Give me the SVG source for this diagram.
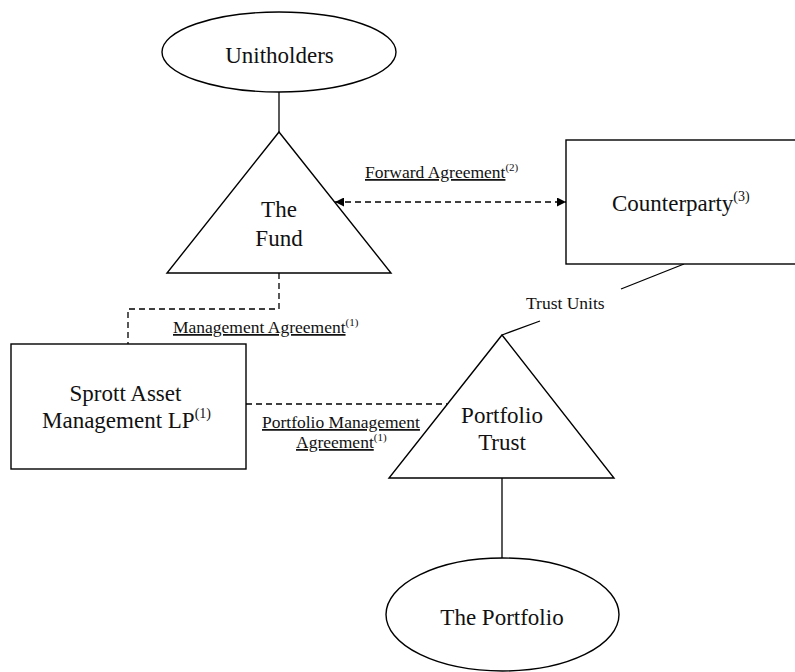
<svg xmlns="http://www.w3.org/2000/svg" width="795" height="672" viewBox="0 0 795 672">
<style>
.shape{fill:#fff;stroke:#000;stroke-width:1.4}
.line{fill:none;stroke:#000;stroke-width:1.3}
.dash{fill:none;stroke:#000;stroke-width:1.3;stroke-dasharray:6 4}
.big{font-family:"Liberation Serif","Times New Roman",serif;font-size:23px;fill:#111}
.lbl{font-family:"Liberation Serif","Times New Roman",serif;font-size:17.5px;fill:#111}
.u{text-decoration:underline}
</style>
<defs>
<marker id="arr" viewBox="0 0 10 10" refX="10" refY="5" markerWidth="10" markerHeight="9" markerUnits="userSpaceOnUse" orient="auto-start-reverse">
<path d="M0,0 L10,5 L0,10 Z" fill="#000"/>
</marker>
</defs>
<rect width="795" height="672" fill="#fff"/>
<g id="connectors">
<line class="line" x1="279" y1="92" x2="279" y2="132"/>
<line class="dash" x1="335" y1="202" x2="566" y2="202" marker-start="url(#arr)" marker-end="url(#arr)"/>
<path class="dash" d="M279,273 V309 H128 V344"/>
<path class="dash" d="M246,404 H447"/>
<line class="line" x1="684" y1="264" x2="621" y2="289"/>
<line class="line" x1="540" y1="321" x2="502" y2="335"/>
<line class="line" x1="502" y1="478" x2="502" y2="558"/>
<text class="lbl" x="365" y="178"><tspan class="u">Forward Agreement</tspan><tspan font-size="11" dy="-7">(2)</tspan></text>
<text class="lbl" x="173" y="333"><tspan class="u">Management Agreement</tspan><tspan font-size="11" dy="-7">(1)</tspan></text>
<text class="lbl" x="262" y="428"><tspan class="u">Portfolio Management</tspan></text>
<text class="lbl" x="296" y="448"><tspan class="u">Agreement</tspan><tspan font-size="11" dy="-7">(1)</tspan></text>
<text class="lbl" x="526" y="309">Trust Units</text>
</g>
<g id="unitholders">
<ellipse class="shape" cx="279" cy="52" rx="117" ry="40"/>
<text class="big" x="279.5" y="63" text-anchor="middle">Unitholders</text>
</g>
<g id="fund">
<polygon class="shape" points="279,132 391,273 167,273"/>
<text class="big" x="279" y="217" text-anchor="middle">The</text>
<text class="big" x="279" y="246" text-anchor="middle">Fund</text>
</g>
<g id="counterparty">
<rect class="shape" x="566" y="140" width="240" height="124"/>
<text class="big" x="612" y="211">Counterparty<tspan font-size="14" dy="-10">(3)</tspan></text>
</g>
<g id="sprott">
<rect class="shape" x="11" y="344" width="235" height="125"/>
<text class="big" x="125.5" y="401" text-anchor="middle">Sprott Asset</text>
<text class="big" x="42" y="428">Management LP<tspan font-size="14" dy="-10">(1)</tspan></text>
</g>
<g id="portfolio-trust">
<polygon class="shape" points="502,335 614,478 389,478"/>
<text class="big" x="502" y="423" text-anchor="middle">Portfolio</text>
<text class="big" x="502" y="450" text-anchor="middle">Trust</text>
</g>
<g id="portfolio">
<ellipse class="shape" cx="502.5" cy="614.5" rx="116.5" ry="56.5"/>
<text class="big" x="502" y="625" text-anchor="middle">The Portfolio</text>
</g>
</svg>
